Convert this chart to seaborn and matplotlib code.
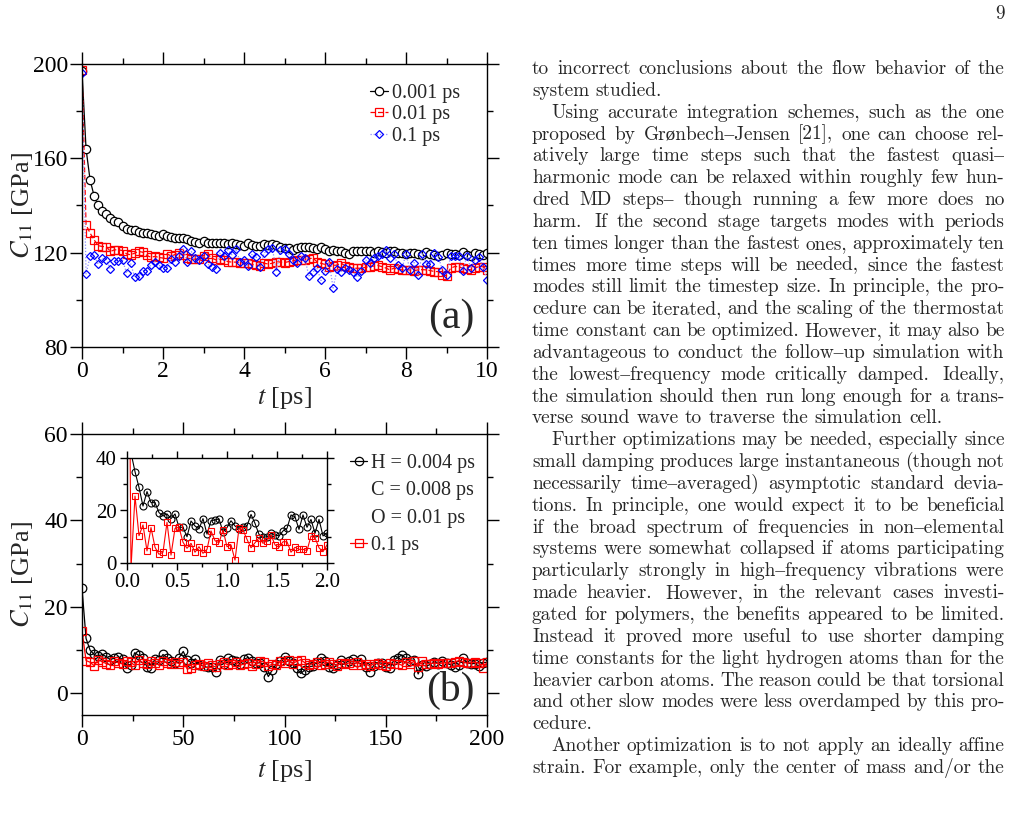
import numpy as np
import matplotlib
matplotlib.use('Agg')
import matplotlib.pyplot as plt
from matplotlib.lines import Line2D
from matplotlib.font_manager import FontProperties
from matplotlib.ticker import MultipleLocator, FormatStrFormatter
import seaborn as sns

# ---------------- data ----------------
# panel (a): C11 [GPa] vs t [ps], sampled every 0.1 ps
t_a = np.arange(101) * 0.1
c11_dt0001 = [197.0, 164.0, 150.8, 144.0, 140.0, 137.8, 136.4, 134.6, 133.6, 132.8,
              131.1, 130.1, 129.4, 129.4, 128.9, 128.5, 128.3, 127.8, 127.5, 127.1,
              127.8, 127.2, 126.8, 126.4, 126.1, 126.1, 125.7, 125.1, 124.7, 124.3,
              125.1, 124.0, 124.0, 124.0, 124.0, 124.0, 123.7, 124.0, 123.6, 123.3,
              122.9, 124.0, 123.3, 122.9, 122.9, 123.7, 123.3, 123.7, 123.3, 122.6,
              121.9, 121.9, 121.2, 121.9, 122.6, 122.3, 122.3, 121.9, 121.5, 122.3,
              121.5, 120.9, 121.2, 120.9, 120.5, 119.8, 119.5, 120.5, 120.5, 120.8,
              120.8, 120.5, 119.8, 120.5, 120.1, 119.8, 120.5, 120.5, 119.8, 119.8,
              119.5, 119.8, 119.8, 119.5, 119.1, 120.1, 119.5, 119.1, 118.4, 119.1,
              119.8, 119.5, 119.5, 119.1, 120.1, 119.1, 118.6, 119.8, 119.3, 118.9,
              119.8]
c11_dt001 = [197.5, 131.8, 128.3, 125.4, 123.0, 122.6, 122.6, 120.5, 121.2, 121.2,
             120.9, 119.5, 119.1, 119.8, 120.5, 120.2, 118.8, 118.1, 118.4, 118.0,
             117.7, 119.5, 118.6, 119.2, 119.8, 119.1, 117.7, 117.4, 117.2, 117.2,
             118.5, 119.5, 117.7, 117.0, 117.2, 117.0, 116.2, 116.0, 116.0, 115.8,
             115.5, 115.5, 115.0, 114.8, 114.4, 115.5, 115.2, 115.5, 116.2, 116.0,
             115.8, 116.2, 116.5, 117.0, 117.0, 117.0, 117.4, 117.7, 116.2, 115.5,
             115.0, 114.1, 114.5, 114.8, 115.5, 114.4, 114.0, 113.4, 113.4, 113.4,
             113.8, 114.1, 114.3, 114.6, 114.1, 113.5, 112.7, 113.4, 113.0, 112.7,
             112.7, 112.7, 112.4, 112.7, 112.8, 112.7, 112.4, 112.0, 112.0, 110.6,
             110.2, 113.4, 114.1, 114.1, 113.4, 113.0, 112.7, 113.5, 114.1, 114.1,
             112.7]
c11_dt01 = [196.3, 111.0, 118.4, 118.8, 115.1, 117.7, 117.0, 113.1, 116.5, 116.5,
            117.0, 111.3, 115.5, 109.6, 110.3, 112.4, 112.4, 114.8, 116.2, 114.6,
            113.7, 113.7, 117.4, 116.2, 118.4, 121.6, 116.2, 120.5, 117.7, 116.7,
            118.6, 115.1, 114.1, 113.1, 119.8, 118.4, 121.2, 119.1, 121.6, 116.2,
            116.7, 114.4, 119.5, 118.1, 114.1, 119.8, 121.5, 121.9, 112.0, 121.2,
            121.6, 119.4, 116.7, 115.5, 118.6, 117.7, 110.2, 111.6, 113.7, 108.2,
            112.3, 116.2, 105.0, 113.1, 112.0, 113.4, 112.7, 112.0, 109.6, 112.4,
            117.0, 115.5, 117.7, 118.6, 119.5, 121.2, 117.9, 119.5, 114.6, 113.4,
            119.4, 112.7, 115.8, 110.6, 119.5, 115.3, 115.3, 119.8, 118.1, 112.7,
            110.6, 118.4, 118.6, 118.4, 112.4, 118.4, 113.4, 117.0, 118.1, 114.1,
            108.5]
labels_a = ['0.001 ps', '0.01 ps', '0.1 ps']

# panel (b): long run, sampled every 2 ps
t_b = np.arange(101) * 2.0
c11_hco = [24.3, 12.7, 10.0, 9.0, 8.6, 9.0, 8.5, 7.8, 8.2, 8.4,
           7.9, 5.8, 6.6, 9.4, 8.8, 8.2, 6.2, 5.8, 8.0, 7.7,
           9.0, 8.3, 7.6, 7.0, 8.3, 9.7, 7.7, 7.1, 8.0, 6.6,
           6.3, 6.0, 6.2, 5.0, 7.7, 6.9, 8.1, 7.7, 7.6, 6.9,
           7.9, 8.3, 7.4, 7.0, 7.1, 6.2, 3.9, 5.4, 6.9, 7.5,
           8.5, 7.6, 7.0, 5.8, 4.6, 5.4, 6.2, 6.3, 7.3, 8.3,
           7.6, 6.2, 5.8, 6.6, 7.7, 7.0, 7.6, 7.9, 7.3, 7.9,
           6.2, 5.0, 6.4, 7.1, 7.0, 6.2, 5.8, 7.7, 8.3, 8.9,
           8.1, 7.6, 7.7, 4.5, 6.6, 6.3, 6.7, 7.3, 6.9, 7.6,
           7.0, 6.6, 6.2, 6.6, 8.3, 7.1, 6.9, 6.9, 6.3, 7.1,
           7.2]
c11_b01 = [14.5, 7.6, 7.2, 6.4, 7.8, 7.3, 6.9, 6.6, 7.4, 7.1,
           6.8, 7.6, 7.2, 6.5, 7.7, 7.1, 6.8, 7.4, 7.0, 6.6,
           7.5, 7.0, 6.7, 7.2, 6.9, 7.3, 5.6, 5.9, 6.6, 6.8,
           6.4, 7.0, 6.5, 6.1, 6.9, 7.2, 6.6, 6.9, 7.3, 6.5,
           6.8, 7.0, 6.4, 6.7, 7.5, 7.2, 6.3, 6.8, 6.5, 7.4,
           7.0, 7.7, 6.9, 7.4, 7.8, 7.1, 6.6, 6.9, 7.2, 6.5,
           6.9, 7.3, 6.8, 6.4, 7.0, 6.7, 7.1, 6.6, 7.2, 6.5,
           6.9, 6.3, 6.8, 7.0, 6.6, 6.4, 7.1, 6.7, 6.9, 6.5,
           7.3, 6.9, 7.4, 6.2, 7.6, 6.9, 6.9, 7.0, 6.9, 7.0,
           7.1, 7.0, 7.2, 7.6, 7.3, 7.0, 7.1, 7.2, 7.0, 5.9,
           7.2]
labels_b = ['H = 0.004 ps', 'C = 0.008 ps', 'O = 0.01 ps', '0.1 ps']

# inset of (b): first 2 ps, sampled every 0.04 ps
t_in = np.arange(51) * 0.04
c11_in_hco = [120.0, 42.0, 34.8, 28.8, 21.7, 27.2, 23.0, 23.0, 19.2, 17.9,
              18.7, 16.9, 18.7, 13.6, 13.6, 10.0, 16.0, 14.1, 13.0, 16.9,
              11.0, 16.1, 16.4, 16.8, 11.9, 13.5, 16.1, 14.1, 13.0, 13.8,
              14.1, 18.5, 15.1, 10.9, 9.8, 10.0, 11.3, 10.7, 10.3, 12.2,
              13.2, 18.3, 17.6, 12.8, 18.3, 13.6, 16.6, 11.3, 16.6, 10.3,
              11.5]
c11_in_01 = [200.0, -2.0, 25.5, 10.4, 14.5, 4.6, 13.5, 6.0, 3.3, 4.1,
             15.5, 3.0, 13.2, 13.6, 7.9, 5.6, 7.5, 4.1, 6.2, 3.7,
             5.2, 12.2, 8.5, 7.7, 12.6, 6.2, 6.9, 1.1, 13.2, 12.6,
             9.0, 5.8, 7.7, 9.6, 7.5, 8.5, 10.7, 6.9, 6.0, 8.1,
             8.1, 4.1, 6.0, 5.2, 5.2, 4.7, 10.3, 9.6, 5.8, 4.3,
             6.9]

# right-hand column of the page (each paragraph is a list of lines)
paragraphs = [
    (False, ["to incorrect conclusions about the flow behavior of the",
             "system studied."]),
    (True, ["Using accurate integration schemes, such as the one",
            "proposed by Grønbech–Jensen [21], one can choose rel-",
            "atively large time steps such that the fastest quasi–",
            "harmonic mode can be relaxed within roughly few hun-",
            "dred MD steps– though running a few more does no",
            "harm.  If the second stage targets modes with periods",
            "ten times longer than the fastest ones, approximately ten",
            "times more time steps will be needed, since the fastest",
            "modes still limit the timestep size. In principle, the pro-",
            "cedure can be iterated, and the scaling of the thermostat",
            "time constant can be optimized. However, it may also be",
            "advantageous to conduct the follow–up simulation with",
            "the lowest–frequency mode critically damped.  Ideally,",
            "the simulation should then run long enough for a trans-",
            "verse sound wave to traverse the simulation cell."]),
    (True, ["Further optimizations may be needed, especially since",
            "small damping produces large instantaneous (though not",
            "necessarily time–averaged) asymptotic standard devia-",
            "tions. In principle, one would expect it to be beneficial",
            "if the broad spectrum of frequencies in non–elemental",
            "systems were somewhat collapsed if atoms participating",
            "particularly strongly in high–frequency vibrations were",
            "made heavier.  However, in the relevant cases investi-",
            "gated for polymers, the benefits appeared to be limited.",
            "Instead it proved more useful to use shorter damping",
            "time constants for the light hydrogen atoms than for the",
            "heavier carbon atoms. The reason could be that torsional",
            "and other slow modes were less overdamped by this pro-",
            "cedure."]),
    (True, ["Another optimization is to not apply an ideally affine",
            "strain. For example, only the center of mass and/or the"]),
]
last_line_open = True  # final paragraph continues on the next page

# ---------------- style ----------------
sns.set_theme(style='ticks')
plt.rcParams['font.family'] = ['Liberation Serif', 'DejaVu Serif']
plt.rcParams['mathtext.fontset'] = 'stix'
plt.rcParams['axes.edgecolor'] = 'black'
plt.rcParams['axes.linewidth'] = 1.0
plt.rcParams['xtick.color'] = 'black'
plt.rcParams['ytick.color'] = 'black'

W, H = 1029, 813
fig = plt.figure(figsize=(W / 100, H / 100), dpi=100)


def box(left, top, right, bottom):
    return [left / W, 1 - bottom / H, (right - left) / W, (bottom - top) / H]


def style_axes(ax, size, major, minor, pad):
    ax.tick_params(which='both', direction='out', top=True, right=True,
                   width=1.0, labelsize=size, pad=pad)
    ax.tick_params(which='major', length=major)
    ax.tick_params(which='minor', length=minor)
    for sp in ax.spines.values():
        sp.set_visible(True)
        sp.set_linewidth(1.0)
        sp.set_color('black')


# ---------------- panel (a) ----------------
ax_a = fig.add_axes(box(82, 64, 487, 347))
sns.lineplot(x=t_a, y=c11_dt0001, ax=ax_a, color='black', lw=0.9, marker='o',
             ms=6, mfc='white', mec='black', mew=0.9, label=labels_a[0], errorbar=None)
sns.lineplot(x=t_a, y=c11_dt001, ax=ax_a, color='red', lw=0.9, ls=(0, (4, 2)),
             marker='s', ms=6.2, mfc='none', mec='red', mew=0.9, label=labels_a[1],
             errorbar=None)
sns.lineplot(x=t_a, y=c11_dt01, ax=ax_a, color='#8c8cff', lw=0.9, ls=(0, (1, 1.5)),
             marker='D', ms=4.4, mfc='none', mec='blue', mew=0.9, label=labels_a[2],
             errorbar=None)
ax_a.set_xlim(0, 10)
ax_a.set_ylim(80, 200)
ax_a.xaxis.set_major_locator(MultipleLocator(2))
ax_a.xaxis.set_minor_locator(MultipleLocator(1))
ax_a.yaxis.set_major_locator(MultipleLocator(40))
ax_a.yaxis.set_minor_locator(MultipleLocator(20))
style_axes(ax_a, 17, 8.6, 4.3, 1.5)
ax_a.set_xlabel('$t$ [ps]', fontsize=19)
ax_a.set_ylabel('$C_{11}$ [GPa]', fontsize=19)
ax_a.xaxis.set_label_coords(0.5, -0.18)
ax_a.xaxis.label.set_va('center')
ax_a.yaxis.set_label_coords(-0.148, 0.5)
ax_a.yaxis.label.set_va('center')
h, l = ax_a.get_legend_handles_labels()
ax_a.legend(h, l, loc='upper left', bbox_to_anchor=(0.711, 0.93), frameon=False,
            fontsize=14.5, handlelength=0.9, handletextpad=0.2, borderpad=0,
            borderaxespad=0, labelspacing=0.12, numpoints=1)
ax_a.text(0.97, 0.102, '(a)', transform=ax_a.transAxes, ha='right', va='center',
          fontsize=30)

# ---------------- panel (b) ----------------
ax_b = fig.add_axes(box(82, 434, 487, 715))
sns.lineplot(x=t_b, y=c11_hco, ax=ax_b, color='black', lw=0.9, marker='o',
             ms=6.2, mfc='none', mec='black', mew=0.9, errorbar=None)
sns.lineplot(x=t_b, y=c11_b01, ax=ax_b, color='red', lw=0.9, marker='s',
             ms=6, mfc='none', mec='red', mew=0.9, errorbar=None)
ax_b.set_xlim(0, 200)
ax_b.set_ylim(-5, 60)
ax_b.xaxis.set_major_locator(MultipleLocator(50))
ax_b.xaxis.set_minor_locator(MultipleLocator(25))
ax_b.yaxis.set_major_locator(MultipleLocator(20))
ax_b.yaxis.set_minor_locator(MultipleLocator(10))
style_axes(ax_b, 17, 8.6, 4.3, 1.5)
ax_b.set_xlabel('$t$ [ps]', fontsize=19)
ax_b.set_ylabel('$C_{11}$ [GPa]', fontsize=19)
ax_b.xaxis.set_label_coords(0.5, -0.2)
ax_b.xaxis.label.set_va('center')
ax_b.yaxis.set_label_coords(-0.148, 0.5)
ax_b.yaxis.label.set_va('center')
hb = [Line2D([], [], color='black', lw=0.9, marker='o', ms=6, mfc='none', mew=0.9),
      Line2D([], [], ls='none'), Line2D([], [], ls='none'),
      Line2D([], [], color='red', lw=0.9, marker='s', ms=6, mfc='none', mew=0.9)]
ax_b.legend(hb, labels_b, loc='upper left', bbox_to_anchor=(0.662, 0.93), frameon=False,
            fontsize=14.5, handlelength=0.85, handletextpad=0.2, borderpad=0,
            borderaxespad=0, labelspacing=0.42, numpoints=1)
ax_b.text(0.97, 0.089, '(b)', transform=ax_b.transAxes, ha='right', va='center',
          fontsize=30)

# inset
ax_in = fig.add_axes(box(127, 458, 327, 563))
sns.lineplot(x=t_in, y=c11_in_hco, ax=ax_in, color='black', lw=0.8, marker='o',
             ms=5, mfc='none', mec='black', mew=0.8, errorbar=None)
sns.lineplot(x=t_in, y=c11_in_01, ax=ax_in, color='red', lw=0.8, marker='s',
             ms=4.8, mfc='none', mec='red', mew=0.8, errorbar=None)
ax_in.set_xlim(0, 2)
ax_in.set_ylim(0, 40)
ax_in.xaxis.set_major_locator(MultipleLocator(0.5))
ax_in.xaxis.set_minor_locator(MultipleLocator(0.25))
ax_in.xaxis.set_major_formatter(FormatStrFormatter('%.1f'))
ax_in.yaxis.set_major_locator(MultipleLocator(20))
ax_in.yaxis.set_minor_locator(MultipleLocator(10))
style_axes(ax_in, 15, 5, 3, 2.5)

# ---------------- page text (justified, like the LaTeX column) ----------------
renderer = fig.canvas.get_renderer()
col_left, col_right, indent = 532, 1004.5, 19
base0, lead = 74, 21.84


def split_line(line):
    words, gaps, extra = [], [], 0.0
    for p in line.split(' '):
        if p == '':
            extra += 0.4
            continue
        if words:
            gaps.append(1.0 + extra)
        extra = 0.0
        words.append(p)
    return words, gaps


def wpx(s, prop):
    return renderer.get_text_width_height_descent(s, prop, ismath=False)[0]


# pick the body size so that justified lines need about their natural spacing
size0 = 13.1
probe = FontProperties(family=['cmr10', 'Liberation Serif'], size=size0)
ratios = []
for pi, (indented, lines) in enumerate(paragraphs):
    for li, line in enumerate(lines[:-1]):
        words, gaps = split_line(line)
        x0 = col_left + (indent if indented and li == 0 else 0)
        nat = sum(wpx(w, probe) for w in words) + sum(gaps) * 0.333 * size0 * 100 / 72
        ratios.append((col_right - x0) / nat)
body_size = size0 * float(np.median(ratios)) * 0.99
body = FontProperties(family=['cmr10', 'Liberation Serif'], size=body_size)
space_nat = 0.333 * body_size * 100 / 72

row = 0
for pi, (indented, lines) in enumerate(paragraphs):
    for li, line in enumerate(lines):
        words, gaps = split_line(line)
        x = col_left + (indent if indented and li == 0 else 0)
        widths = [wpx(w, body) for w in words]
        last = li == len(lines) - 1 and not (pi == len(paragraphs) - 1 and last_line_open)
        if last or not gaps:
            unit = space_nat
        else:
            unit = (col_right - x - sum(widths)) / sum(gaps)
        y = base0 + lead * row
        for k, w in enumerate(words):
            fig.text(x / W, 1 - y / H, w, fontproperties=body, ha='left', va='baseline')
            x += widths[k] + (gaps[k] * unit if k < len(gaps) else 0)
        row += 1

fig.text(col_right / W, 1 - 19 / H, '9', fontproperties=body, ha='right', va='baseline')

fig.savefig('out.png', dpi=100)
